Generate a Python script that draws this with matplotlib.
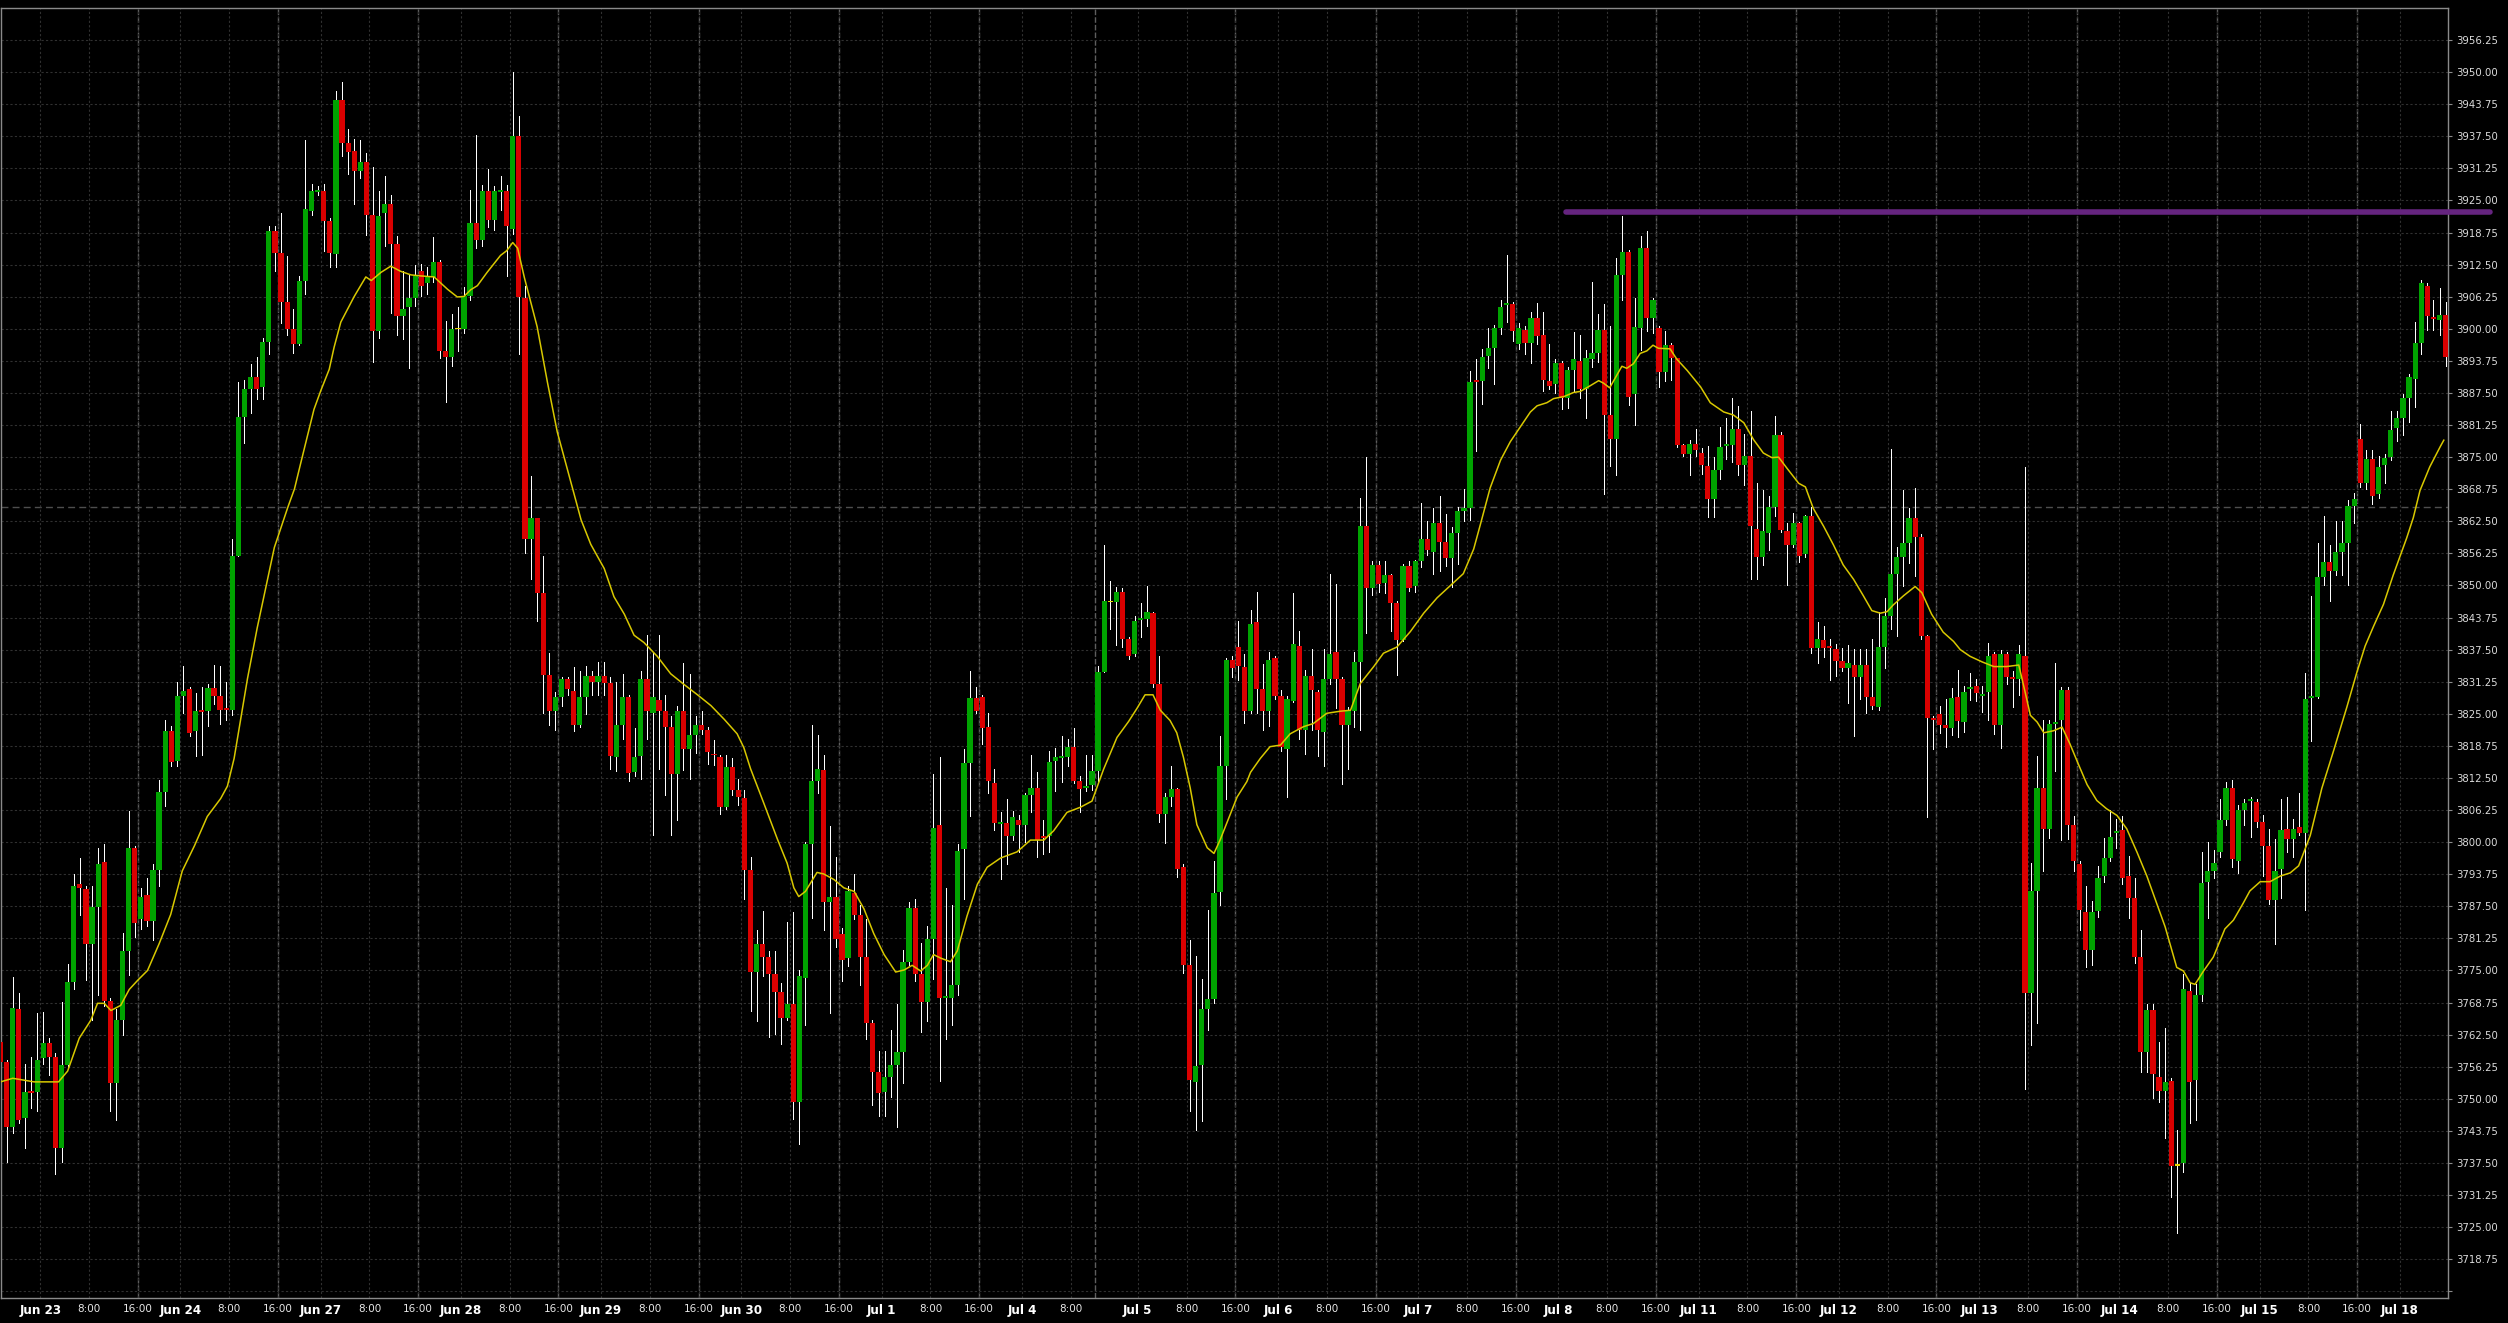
import numpy as np
import pandas as pd
import matplotlib
matplotlib.use('Agg')
import matplotlib.pyplot as plt

# hourly bars, ES futures, Jun 23 - Jul 18
opens = [3761.0, 3757.1, 3744.5, 3767.4, 3746.2, 3751.5, 3751.4, 3757.9, 3760.8, 3758.2,
         3740.5, 3756.5, 3772.7, 3791.8, 3790.8, 3780.2, 3787.3, 3796.1, 3769.1, 3753.0,
         3765.3, 3778.8, 3798.9, 3785.1, 3789.7, 3784.7, 3794.6, 3809.7, 3821.6, 3815.9,
         3828.4, 3829.8, 3821.6, 3825.7, 3825.5, 3830.0, 3828.4, 3826.2, 3825.8, 3855.7,
         3882.9, 3888.2, 3890.7, 3888.6, 3897.4, 3919.0, 3914.8, 3905.2, 3899.9, 3897.1,
         3909.4, 3923.0, 3926.7, 3926.8, 3920.9, 3914.5, 3944.6, 3936.1, 3934.6, 3930.8,
         3932.5, 3922.2, 3899.6, 3922.6, 3924.3, 3916.5, 3902.5, 3904.2, 3905.9, 3911.3,
         3908.9, 3910.1, 3913.0, 3895.7, 3894.5, 3899.9, 3899.9, 3906.3, 3920.6, 3917.2,
         3926.8, 3921.2, 3926.7, 3926.8, 3919.5, 3937.6, 3905.9, 3859.0, 3863.1, 3848.5,
         3832.5, 3825.5, 3828.2, 3831.7, 3829.4, 3822.9, 3828.2, 3832.4, 3831.1, 3832.4,
         3831.0, 3816.6, 3822.9, 3828.2, 3813.6, 3816.8, 3831.8, 3825.2, 3827.7, 3825.5,
         3822.5, 3813.2, 3825.5, 3818.1, 3820.9, 3822.9, 3821.8, 3817.2, 3816.6, 3806.8,
         3814.7, 3810.2, 3808.6, 3794.5, 3774.7, 3780.2, 3777.7, 3774.4, 3770.9, 3765.8,
         3768.5, 3749.4, 3773.6, 3799.6, 3811.9, 3814.0, 3788.4, 3789.4, 3782.2, 3777.4,
         3790.1, 3785.9, 3777.7, 3764.7, 3755.3, 3751.4, 3754.2, 3756.6, 3759.2, 3776.7,
         3787.2, 3774.3, 3768.9, 3781.1, 3803.4, 3769.6, 3769.6, 3772.2, 3798.6, 3815.4,
         3828.0, 3828.2, 3822.5, 3811.5, 3803.5, 3803.7, 3801.1, 3804.4, 3803.4, 3809.2,
         3810.6, 3801.2, 3801.1, 3815.9, 3816.3, 3816.5, 3818.6, 3812.0, 3810.5, 3811.2,
         3813.8, 3833.2, 3846.7, 3846.7, 3848.7, 3839.6, 3836.6, 3843.3, 3843.4, 3844.6,
         3830.9, 3805.4, 3808.8, 3810.3, 3795.1, 3776.0, 3753.3, 3756.5, 3767.4, 3769.4,
         3790.3, 3814.8, 3835.4, 3838.0, 3834.1, 3825.5, 3842.8, 3829.9, 3825.5, 3835.9,
         3828.5, 3818.1, 3827.5, 3838.3, 3821.9, 3832.4, 3829.3, 3821.5, 3831.8, 3837.1,
         3831.8, 3822.9, 3825.5, 3835.0, 3861.6, 3849.6, 3853.9, 3850.5, 3852.1, 3846.6,
         3839.4, 3853.7, 3849.9, 3854.7, 3859.1, 3856.5, 3862.2, 3858.5, 3855.3, 3860.3,
         3864.5, 3865.1, 3889.9, 3889.8, 3894.7, 3896.3, 3900.1, 3904.7, 3904.8, 3897.1,
         3899.7, 3897.2, 3902.1, 3898.7, 3889.9, 3889.2, 3893.4, 3886.5, 3891.9, 3893.8,
         3888.3, 3894.1, 3895.3, 3899.7, 3883.2, 3878.5, 3910.5, 3914.9, 3887.2, 3900.2,
         3915.7, 3902.1, 3900.1, 3891.6, 3896.8, 3894.3, 3877.4, 3875.6, 3877.5, 3875.9,
         3873.3, 3866.8, 3872.5, 3877.2, 3877.3, 3880.5, 3873.5, 3875.3, 3861.0, 3855.6,
         3860.3, 3865.2, 3879.3, 3860.7, 3857.9, 3862.1, 3856.1, 3863.5, 3837.9, 3839.3,
         3838.0, 3837.7, 3835.2, 3833.9, 3834.6, 3832.1, 3834.6, 3828.3, 3826.4, 3838.0,
         3844.0, 3852.3, 3855.6, 3858.3, 3863.2, 3859.4, 3840.2, 3824.0, 3825.0, 3822.8,
         3822.3, 3828.2, 3823.4, 3829.9, 3830.5, 3828.5, 3829.2, 3836.6, 3822.8, 3836.6,
         3832.1, 3831.8, 3836.2, 3770.7, 3790.4, 3810.5, 3802.6, 3823.1, 3823.7, 3829.6,
         3803.3, 3795.8, 3786.4, 3778.9, 3786.5, 3793.4, 3797.0, 3801.8, 3802.3, 3793.4,
         3789.2, 3777.6, 3759.2, 3767.3, 3754.3, 3751.5, 3753.5, 3737.0, 3737.4, 3771.0,
         3753.6, 3770.3, 3792.3, 3794.3, 3798.0, 3804.3, 3810.5, 3796.4, 3806.2, 3808.0,
         3807.9, 3803.9, 3799.3, 3788.8, 3794.7, 3802.6, 3800.6, 3803.0, 3801.7, 3828.1,
         3828.3, 3851.7, 3854.6, 3852.9, 3856.6, 3858.2, 3865.4, 3878.6, 3870.0, 3874.6,
         3867.8, 3873.5, 3875.0, 3880.7, 3882.7, 3886.5, 3890.2, 3897.2, 3908.4, 3902.2,
         3901.8, 3902.7]

highs = [3762.5, 3757.5, 3773.8, 3770.7, 3756.8, 3758.2, 3766.7, 3767.0, 3761.8, 3758.9,
         3768.9, 3776.2, 3793.7, 3796.9, 3791.5, 3791.5, 3798.9, 3799.7, 3769.6, 3767.4,
         3782.3, 3806.0, 3799.3, 3791.1, 3793.0, 3795.8, 3812.1, 3823.7, 3822.7, 3831.2,
         3834.3, 3830.2, 3829.1, 3830.2, 3830.8, 3834.5, 3834.3, 3831.2, 3859.1, 3889.7,
         3890.0, 3893.1, 3894.5, 3898.2, 3920.0, 3920.0, 3922.6, 3914.1, 3903.9, 3910.3,
         3936.8, 3928.2, 3927.8, 3928.2, 3921.5, 3946.4, 3948.1, 3938.9, 3937.0, 3936.8,
         3934.2, 3931.5, 3926.8, 3929.7, 3926.0, 3918.0, 3911.3, 3910.4, 3912.4, 3912.7,
         3912.0, 3917.9, 3913.4, 3901.6, 3902.8, 3904.2, 3908.2, 3927.1, 3937.8, 3928.0,
         3931.1, 3927.8, 3929.8, 3928.0, 3950.0, 3941.4, 3908.3, 3871.4, 3863.2, 3855.7,
         3836.9, 3829.3, 3832.1, 3832.1, 3834.1, 3833.4, 3834.4, 3833.4, 3835.1, 3835.1,
         3832.1, 3831.1, 3832.8, 3828.7, 3822.2, 3833.4, 3840.3, 3836.9, 3840.3, 3828.7,
         3824.6, 3826.6, 3834.8, 3832.8, 3824.6, 3825.5, 3822.5, 3819.8, 3817.0, 3817.0,
         3816.4, 3812.3, 3810.2, 3797.2, 3782.9, 3786.6, 3778.8, 3778.8, 3772.6, 3784.5,
         3786.3, 3775.0, 3800.0, 3822.8, 3820.9, 3817.0, 3803.1, 3797.2, 3783.2, 3791.4,
         3793.8, 3787.7, 3785.0, 3765.4, 3759.4, 3759.4, 3763.5, 3768.5, 3779.0, 3788.4,
         3789.0, 3780.4, 3783.6, 3813.2, 3816.6, 3791.1, 3787.7, 3799.6, 3818.1, 3833.4,
         3830.3, 3828.7, 3825.1, 3814.2, 3805.8, 3808.4, 3806.0, 3805.2, 3809.6, 3816.9,
         3813.6, 3804.4, 3817.7, 3818.3, 3820.7, 3820.1, 3822.3, 3812.9, 3816.9, 3816.9,
         3834.4, 3857.9, 3850.9, 3849.7, 3849.6, 3840.0, 3844.0, 3846.6, 3849.9, 3844.9,
         3836.2, 3809.6, 3814.8, 3810.6, 3795.7, 3781.0, 3777.8, 3773.3, 3786.7, 3796.3,
         3820.7, 3835.9, 3836.2, 3843.0, 3836.6, 3845.2, 3848.7, 3834.7, 3837.1, 3836.2,
         3829.7, 3828.5, 3848.5, 3841.2, 3833.5, 3837.7, 3829.7, 3837.7, 3852.3, 3850.3,
         3832.1, 3826.3, 3837.1, 3867.0, 3875.0, 3854.7, 3854.7, 3854.7, 3852.3, 3847.0,
         3854.1, 3854.7, 3855.0, 3866.0, 3862.5, 3865.1, 3867.5, 3864.0, 3861.3, 3865.2,
         3868.8, 3891.7, 3894.1, 3896.1, 3900.1, 3900.8, 3905.7, 3914.4, 3905.3, 3901.1,
         3900.5, 3903.3, 3905.0, 3903.3, 3897.0, 3894.1, 3893.8, 3892.5, 3899.3, 3898.8,
         3895.9, 3909.1, 3902.9, 3904.8, 3900.5, 3913.8, 3922.0, 3915.4, 3905.9, 3918.0,
         3919.1, 3905.9, 3900.5, 3899.6, 3897.2, 3894.4, 3877.5, 3878.4, 3880.4, 3876.8,
         3877.1, 3875.1, 3880.9, 3882.6, 3886.5, 3884.9, 3879.5, 3884.0, 3870.0, 3868.6,
         3867.5, 3883.1, 3879.8, 3862.1, 3864.1, 3862.3, 3863.7, 3865.3, 3842.8, 3842.2,
         3839.5, 3838.6, 3837.9, 3838.4, 3837.7, 3837.6, 3837.7, 3839.5, 3844.9, 3847.6,
         3876.5, 3857.4, 3868.6, 3865.0, 3868.9, 3860.1, 3840.4, 3824.5, 3826.6, 3827.9,
         3830.1, 3833.5, 3830.5, 3832.9, 3831.8, 3830.5, 3838.8, 3837.1, 3837.5, 3837.1,
         3833.3, 3838.4, 3873.1, 3796.0, 3816.8, 3823.7, 3823.7, 3834.9, 3830.3, 3830.3,
         3805.0, 3796.3, 3791.4, 3788.5, 3795.4, 3800.9, 3806.2, 3804.6, 3805.0, 3797.3,
         3793.0, 3782.9, 3768.4, 3768.4, 3761.1, 3763.7, 3754.1, 3744.0, 3774.3, 3772.6,
         3772.3, 3798.0, 3800.0, 3798.4, 3808.5, 3811.8, 3812.1, 3807.2, 3808.5, 3808.8,
         3808.5, 3805.2, 3802.6, 3800.6, 3808.5, 3808.8, 3804.6, 3809.6, 3832.9, 3848.0,
         3858.2, 3863.6, 3857.9, 3862.5, 3862.5, 3866.7, 3868.1, 3881.4, 3876.4, 3876.4,
         3875.3, 3875.7, 3884.0, 3883.9, 3887.3, 3891.1, 3901.4, 3909.5, 3909.0, 3905.6,
         3908.0, 3905.3]

lows = [3756.1, 3737.7, 3743.3, 3745.2, 3740.5, 3748.3, 3747.6, 3756.8, 3754.7, 3735.3,
        3737.7, 3756.1, 3771.3, 3785.9, 3773.1, 3765.3, 3770.3, 3768.1, 3747.6, 3745.8,
        3762.5, 3774.1, 3781.6, 3783.0, 3783.7, 3780.9, 3791.5, 3807.1, 3814.9, 3814.9,
        3825.1, 3820.6, 3816.7, 3817.0, 3822.7, 3827.0, 3823.1, 3823.7, 3824.8, 3855.7,
        3877.7, 3883.6, 3886.3, 3886.3, 3895.0, 3911.3, 3901.1, 3898.8, 3895.3, 3896.8,
        3906.7, 3922.2, 3926.1, 3915.1, 3912.0, 3912.0, 3933.7, 3930.1, 3924.4, 3929.3,
        3918.3, 3893.5, 3898.2, 3916.2, 3903.0, 3898.8, 3898.1, 3892.4, 3904.5, 3906.3,
        3906.7, 3909.2, 3894.3, 3885.7, 3892.8, 3895.7, 3899.2, 3905.6, 3915.8, 3916.2,
        3919.8, 3919.2, 3923.2, 3910.3, 3918.5, 3895.0, 3856.4, 3851.2, 3843.0, 3825.2,
        3822.9, 3821.8, 3826.6, 3828.7, 3821.6, 3822.5, 3825.0, 3828.7, 3828.7, 3828.7,
        3814.3, 3813.9, 3820.1, 3811.9, 3812.9, 3812.3, 3820.1, 3801.3, 3814.3, 3809.1,
        3801.3, 3804.3, 3814.0, 3812.3, 3817.3, 3821.1, 3815.3, 3815.0, 3805.4, 3806.4,
        3809.1, 3807.2, 3789.0, 3767.2, 3765.1, 3774.0, 3762.0, 3762.7, 3760.7, 3765.4,
        3746.0, 3741.2, 3764.4, 3785.3, 3809.5, 3782.9, 3766.8, 3779.5, 3773.0, 3775.8,
        3785.0, 3772.2, 3761.7, 3748.7, 3746.7, 3746.7, 3750.4, 3744.6, 3753.1, 3776.0,
        3773.0, 3763.1, 3765.1, 3773.3, 3753.5, 3761.7, 3764.4, 3770.2, 3789.0, 3805.1,
        3825.2, 3819.1, 3809.6, 3802.3, 3792.9, 3795.7, 3800.4, 3798.1, 3800.1, 3805.8,
        3797.2, 3797.7, 3798.1, 3810.0, 3811.8, 3814.8, 3811.5, 3805.8, 3810.0, 3810.2,
        3811.8, 3833.2, 3841.6, 3838.4, 3838.0, 3835.6, 3836.2, 3840.0, 3842.2, 3830.3,
        3804.0, 3799.9, 3807.0, 3793.3, 3774.6, 3747.6, 3744.0, 3745.6, 3763.5, 3768.6,
        3787.7, 3808.4, 3832.1, 3831.5, 3823.3, 3825.1, 3825.1, 3821.9, 3822.7, 3827.9,
        3817.7, 3808.8, 3827.3, 3820.1, 3817.1, 3821.9, 3816.8, 3814.8, 3830.9, 3826.1,
        3811.4, 3814.2, 3822.5, 3821.9, 3840.8, 3848.2, 3848.7, 3848.5, 3841.2, 3832.6,
        3839.2, 3849.0, 3848.7, 3853.5, 3855.9, 3852.3, 3852.9, 3853.8, 3849.7, 3854.1,
        3862.5, 3862.8, 3876.2, 3885.4, 3892.3, 3889.2, 3898.9, 3901.3, 3897.7, 3896.1,
        3895.0, 3893.4, 3897.1, 3887.8, 3888.3, 3887.4, 3884.3, 3884.5, 3887.7, 3886.5,
        3882.7, 3892.5, 3893.6, 3867.9, 3873.3, 3871.5, 3905.6, 3885.2, 3881.3, 3895.9,
        3899.5, 3899.2, 3888.7, 3889.9, 3890.1, 3876.9, 3875.3, 3871.5, 3875.3, 3871.7,
        3863.4, 3863.4, 3870.7, 3874.7, 3874.0, 3871.5, 3869.5, 3851.3, 3851.2, 3853.9,
        3857.0, 3863.5, 3860.4, 3850.0, 3857.4, 3854.5, 3855.6, 3836.9, 3834.9, 3836.0,
        3831.5, 3832.4, 3833.3, 3827.2, 3820.7, 3827.9, 3825.2, 3825.9, 3825.7, 3834.0,
        3841.6, 3840.2, 3849.8, 3854.3, 3851.8, 3839.5, 3804.8, 3818.2, 3821.2, 3818.5,
        3820.9, 3820.5, 3821.5, 3827.6, 3827.4, 3825.4, 3823.7, 3821.1, 3818.4, 3830.9,
        3826.3, 3828.7, 3751.9, 3760.5, 3764.7, 3794.4, 3800.9, 3813.8, 3800.4, 3800.6,
        3794.4, 3782.9, 3775.6, 3776.0, 3785.5, 3792.3, 3796.3, 3798.9, 3791.8, 3785.2,
        3776.5, 3755.2, 3755.2, 3750.2, 3749.3, 3742.3, 3730.8, 3723.9, 3735.7, 3745.3,
        3745.9, 3769.0, 3785.2, 3793.1, 3797.1, 3803.3, 3795.1, 3794.0, 3803.3, 3801.0,
        3803.0, 3793.4, 3787.9, 3780.2, 3789.2, 3798.0, 3797.1, 3801.3, 3786.8, 3819.7,
        3828.0, 3850.0, 3847.0, 3852.0, 3852.0, 3850.0, 3862.1, 3869.1, 3868.7, 3865.8,
        3867.1, 3870.0, 3874.4, 3878.1, 3879.3, 3881.9, 3884.7, 3895.1, 3899.8, 3899.8,
        3898.7, 3892.8]

closes = [3757.1, 3744.5, 3767.7, 3745.9, 3751.4, 3751.1, 3757.5, 3760.8, 3758.2, 3740.5,
          3756.5, 3772.7, 3791.5, 3791.1, 3780.2, 3787.3, 3795.8, 3769.1, 3753.0, 3765.3,
          3778.8, 3798.9, 3784.2, 3789.4, 3784.7, 3794.6, 3809.7, 3821.7, 3815.6, 3828.4,
          3829.5, 3821.3, 3825.5, 3825.3, 3830.0, 3828.4, 3825.8, 3825.8, 3855.7, 3882.9,
          3888.2, 3890.7, 3888.2, 3897.4, 3919.0, 3914.8, 3905.2, 3899.9, 3897.1, 3909.4,
          3923.3, 3926.8, 3927.0, 3920.9, 3914.8, 3944.6, 3936.1, 3934.4, 3930.8, 3932.5,
          3922.2, 3899.6, 3921.9, 3924.3, 3916.5, 3902.5, 3903.9, 3905.9, 3910.3, 3908.4,
          3910.0, 3913.0, 3895.7, 3894.5, 3899.9, 3899.9, 3906.3, 3920.6, 3917.2, 3926.8,
          3921.2, 3926.8, 3926.9, 3920.0, 3937.6, 3906.2, 3859.0, 3863.2, 3848.5, 3832.5,
          3825.5, 3828.2, 3831.8, 3829.8, 3822.9, 3828.2, 3832.4, 3831.1, 3832.4, 3831.0,
          3816.8, 3822.9, 3828.2, 3813.4, 3816.6, 3831.8, 3825.5, 3828.2, 3825.5, 3822.5,
          3813.2, 3825.5, 3818.1, 3820.9, 3822.9, 3821.8, 3817.5, 3816.9, 3806.8, 3814.7,
          3810.2, 3808.8, 3794.5, 3774.7, 3780.2, 3777.7, 3774.4, 3770.9, 3765.8, 3768.5,
          3749.4, 3774.0, 3799.6, 3811.9, 3814.3, 3788.4, 3789.4, 3781.1, 3777.1, 3790.4,
          3785.9, 3777.7, 3764.7, 3755.3, 3751.2, 3754.2, 3756.6, 3759.2, 3776.7, 3787.2,
          3774.3, 3768.9, 3781.2, 3802.7, 3769.6, 3769.8, 3772.2, 3798.2, 3815.4, 3828.0,
          3825.5, 3822.2, 3812.0, 3803.7, 3803.8, 3801.1, 3804.9, 3803.4, 3809.2, 3810.6,
          3800.4, 3800.9, 3815.6, 3816.5, 3816.8, 3818.6, 3812.0, 3810.3, 3810.7, 3813.8,
          3833.2, 3847.0, 3846.7, 3848.7, 3839.6, 3836.2, 3843.0, 3843.5, 3844.8, 3830.9,
          3805.4, 3808.8, 3810.3, 3794.7, 3776.0, 3753.7, 3756.3, 3767.4, 3769.4, 3790.1,
          3814.8, 3835.4, 3833.9, 3834.4, 3825.5, 3842.4, 3829.9, 3825.5, 3835.4, 3828.5,
          3818.6, 3827.9, 3838.6, 3821.9, 3832.4, 3829.7, 3821.9, 3831.8, 3836.6, 3831.8,
          3822.9, 3825.5, 3835.0, 3861.6, 3849.6, 3853.9, 3850.3, 3852.1, 3846.6, 3839.4,
          3853.7, 3849.6, 3854.7, 3859.1, 3856.9, 3862.2, 3858.5, 3855.3, 3860.3, 3864.5,
          3865.1, 3889.7, 3889.7, 3894.6, 3896.2, 3900.1, 3904.2, 3904.9, 3899.5, 3900.1,
          3897.2, 3902.1, 3898.6, 3890.1, 3888.9, 3893.4, 3886.5, 3891.9, 3894.1, 3888.3,
          3894.3, 3895.2, 3899.7, 3883.2, 3878.5, 3910.5, 3914.9, 3886.8, 3900.3, 3915.7,
          3902.1, 3905.6, 3891.6, 3896.8, 3894.3, 3877.4, 3875.6, 3877.5, 3876.4, 3873.5,
          3866.8, 3872.5, 3876.9, 3877.4, 3880.5, 3873.5, 3875.3, 3861.5, 3855.6, 3860.7,
          3865.2, 3879.3, 3860.8, 3857.9, 3862.1, 3855.8, 3863.5, 3837.9, 3839.5, 3837.9,
          3837.8, 3835.2, 3833.9, 3834.9, 3832.1, 3834.6, 3828.3, 3826.5, 3838.0, 3844.0,
          3852.3, 3855.6, 3858.3, 3863.2, 3859.4, 3840.2, 3824.2, 3823.8, 3822.8, 3822.3,
          3828.1, 3823.6, 3829.2, 3830.1, 3829.0, 3828.8, 3836.2, 3822.8, 3836.6, 3832.2,
          3831.8, 3836.6, 3770.7, 3790.4, 3810.5, 3802.6, 3823.0, 3823.4, 3829.6, 3803.3,
          3796.3, 3786.8, 3778.9, 3786.4, 3793.0, 3796.9, 3801.0, 3802.1, 3793.0, 3789.2,
          3777.6, 3759.2, 3767.3, 3754.8, 3751.5, 3753.2, 3737.0, 3737.0, 3771.4, 3753.2,
          3770.3, 3792.1, 3794.3, 3796.0, 3804.3, 3810.5, 3796.7, 3806.2, 3807.6, 3808.3,
          3803.9, 3799.3, 3788.8, 3794.4, 3802.3, 3800.6, 3802.6, 3801.7, 3827.9, 3828.4,
          3851.7, 3854.6, 3852.9, 3856.6, 3858.2, 3865.4, 3866.9, 3870.0, 3874.6, 3867.4,
          3873.1, 3874.8, 3880.3, 3882.7, 3886.5, 3890.6, 3897.2, 3908.9, 3902.4, 3901.9,
          3902.7, 3894.5]

# yellow moving average at these bar positions
ma_x = [0, 2.0, 5.5, 9.5, 11.0, 12.9, 14.8, 15.9, 17.0, 18.1, 19.7, 21.1, 22.5, 24.1, 26.0,
        27.9, 29.8, 31.8, 33.9, 36.1, 37.2, 38.3, 40.5, 42.1, 44.9, 47.1, 48.2, 49.2, 51.4,
        52.5, 53.9, 54.7, 55.8, 58.0, 59.9, 60.8, 62.4, 64.0, 65.6, 67.3, 68.9, 71.1, 73.3,
        74.9, 76.0, 77.1, 78.2, 79.8, 82.0, 83.0, 84.0, 84.8, 85.9, 88.0, 89.7, 91.3, 93.5,
        95.2, 96.8, 99.0, 100.6, 102.3, 103.9, 105.5, 107.7, 109.9, 112.1, 114.3, 116.5,
        118.7, 120.8, 121.9, 123.0, 125.2, 127.4, 129.0, 130.1, 130.9, 132.0, 133.9, 135.0,
        136.7, 138.3, 140.0, 141.6, 143.2, 144.9, 146.8, 148.2, 149.5, 150.9, 152.0, 153.0,
        154.2, 155.8, 156.9, 158.5, 160.2, 161.8, 164.0, 166.7, 168.9, 171.1, 172.7, 174.9,
        177.1, 179.0, 180.9, 183.1, 185.0, 186.4, 187.7, 189.0, 190.2, 191.8, 192.9, 194.0,
        195.1, 196.2, 197.9, 199.0, 200.0, 201.4, 202.8, 204.4, 205.0, 206.6, 208.2, 209.9,
        211.5, 213.7, 215.3, 217.5, 219.7, 221.4, 223.0, 225.2, 226.8, 229.0, 231.2, 233.4,
        235.6, 237.7, 239.9, 241.6, 242.7, 244.3, 246.0, 247.6, 249.2, 250.9, 252.0, 253.6,
        254.7, 256.4, 258.0, 259.1, 260.7, 262.1, 262.9, 263.9, 265.1, 265.9, 266.7, 267.8,
        268.9, 270.0, 271.0, 271.9, 273.8, 274.9, 276.6, 278.8, 280.4, 282.6, 284.2, 285.9,
        287.5, 289.1, 290.5, 291.6, 293.0, 294.9, 296.0, 297.3, 299.0, 300.6, 302.2, 303.9,
        305.5, 306.9, 308.3, 309.4, 310.4, 312.1, 314.0, 315.1, 316.7, 318.6, 320.3, 321.4,
        323.0, 325.0, 326.9, 329.0, 331.0, 332.1, 332.9, 334.0, 335.1, 336.7, 338.1, 339.4,
        340.8, 342.2, 343.8, 345.4, 347.1, 348.7, 350.4, 352.0, 353.6, 355.0, 356.9, 358.0,
        359.1, 359.9, 361.3, 362.9, 364.8, 366.2, 367.8, 368.9, 370.6, 372.2, 373.9, 375.5,
        376.9, 378.8, 380.7, 382.6, 384.8, 386.4, 387.8, 389.2, 390.8, 392.4, 394.6, 395.7,
        396.8, 398.4, 400.1, 400.7]
ma_y = [3753.3, 3754.0, 3753.3, 3753.3, 3755.4, 3761.8, 3765.3, 3768.6, 3768.6, 3767.2,
        3768.2, 3771.3, 3773.1, 3775.0, 3780.2, 3785.9, 3794.4, 3799.3, 3805.0, 3808.5,
        3810.9, 3816.3, 3831.9, 3841.8, 3857.4, 3865.2, 3868.8, 3873.7, 3884.3, 3887.9,
        3892.1, 3896.4, 3901.3, 3906.3, 3910.1, 3909.4, 3911.0, 3912.2, 3911.2, 3910.5,
        3910.3, 3910.1, 3907.7, 3906.2, 3906.3, 3907.6, 3908.4, 3911.0, 3914.3, 3915.2,
        3916.8, 3915.7, 3910.0, 3900.4, 3889.5, 3879.9, 3870.3, 3862.8, 3858.0, 3853.3,
        3847.8, 3844.4, 3840.3, 3838.9, 3836.2, 3832.8, 3830.7, 3828.7, 3826.6, 3823.9,
        3821.1, 3818.4, 3814.3, 3807.5, 3800.6, 3795.9, 3791.1, 3789.4, 3790.4, 3794.1,
        3793.8, 3792.7, 3791.1, 3790.4, 3787.0, 3782.2, 3778.1, 3774.7, 3775.1, 3776.0,
        3774.9, 3776.0, 3778.1, 3777.4, 3776.7, 3778.8, 3785.6, 3791.8, 3795.1, 3796.9,
        3798.1, 3800.4, 3800.4, 3802.2, 3805.8, 3806.8, 3808.0, 3814.2, 3820.4, 3823.5,
        3826.1, 3828.7, 3828.7, 3825.7, 3823.7, 3821.3, 3816.5, 3810.6, 3803.4, 3798.9,
        3797.8, 3800.4, 3804.6, 3808.8, 3811.8, 3813.6, 3816.3, 3818.6, 3818.9, 3821.1,
        3822.5, 3823.1, 3825.1, 3825.5, 3825.7, 3830.9, 3834.2, 3836.8, 3838.0, 3841.0,
        3844.6, 3847.6, 3849.9, 3852.3, 3857.1, 3861.9, 3869.0, 3874.4, 3878.0, 3880.8,
        3883.8, 3885.0, 3885.6, 3886.4, 3886.8, 3887.6, 3887.8, 3888.9, 3889.9, 3889.4,
        3888.5, 3891.0, 3892.7, 3892.3, 3893.2, 3895.2, 3895.7, 3896.8, 3896.2, 3896.1,
        3894.1, 3891.9, 3888.7, 3885.6, 3883.8, 3883.2, 3881.7, 3878.4, 3875.8, 3874.9,
        3875.0, 3872.8, 3869.9, 3869.2, 3865.0, 3861.5, 3857.9, 3854.0, 3851.2, 3848.0,
        3845.1, 3844.6, 3844.9, 3846.2, 3848.0, 3849.8, 3848.6, 3844.4, 3840.9, 3839.1,
        3837.5, 3836.2, 3835.1, 3834.2, 3834.2, 3834.5, 3828.9, 3824.7, 3823.4, 3821.3,
        3821.7, 3822.4, 3819.1, 3815.1, 3811.2, 3808.1, 3806.5, 3805.2, 3802.6, 3798.0,
        3793.4, 3788.1, 3783.5, 3775.6, 3774.9, 3772.6, 3772.3, 3774.9, 3777.6, 3783.1,
        3784.8, 3788.1, 3790.5, 3792.3, 3792.3, 3793.4, 3794.0, 3795.4, 3801.3, 3810.5,
        3817.7, 3826.3, 3832.9, 3838.2, 3842.1, 3846.3, 3852.0, 3859.2, 3863.2, 3868.5,
        3873.1, 3877.0, 3878.3]

# x-axis labels (bar index of each session day start)
day_names = ['Jun 23', 'Jun 24', 'Jun 27', 'Jun 28', 'Jun 29', 'Jun 30', 'Jul 1', 'Jul 4', 'Jul 5',
             'Jul 6', 'Jul 7', 'Jul 8', 'Jul 11', 'Jul 12', 'Jul 13', 'Jul 14', 'Jul 15', 'Jul 18']
day_pos = [6.5, 29.5, 52.5, 75.5, 98.5, 121.5, 144.5, 167.5, 186.5,
           209.5, 232.5, 255.5, 278.5, 301.5, 324.5, 347.5, 370.5, 393.5]
# session breaks (daily halt)
breaks = [22.5, 45.5, 68.5, 91.5, 114.5, 137.5, 160.5, 179.5, 202.5,
          225.5, 248.5, 271.5, 294.5, 317.5, 340.5, 363.5, 386.5]

level_price = 3922.75      # purple horizontal line
level_start = 256.8
cross_price = 3865.25      # dashed crosshair line

df = pd.DataFrame({'open': opens, 'high': highs, 'low': lows, 'close': closes})
x = np.arange(len(df))

fig = plt.figure(figsize=(25.08, 13.23), dpi=100, facecolor='black')
ax = fig.add_axes([0.0004, 0.0189, 0.9757, 0.9751])
ax.set_facecolor('black')

# grid
hour8 = [d + 8 for d in day_pos[:-1]]
hour16 = [d + 16 for d in day_pos[:-1] if d != 167.5]
hour_pos = sorted(hour8 + hour16)
hour_names = ['8:00' if p in hour8 else '16:00' for p in hour_pos]

ax.set_xticks(day_pos)
ax.set_xticklabels(day_names, fontsize=9.5, fontweight='bold', fontstretch='condensed', color='white')
ax.set_xticks(hour_pos, minor=True)
ax.set_xticklabels(hour_names, minor=True, fontsize=7.5, color='#e8e8e8')
ax.tick_params(axis='x', which='both', length=0, pad=4)

ax.grid(True, which='both', axis='x', color='#303030', lw=0.8, linestyle=(0, (2, 2)), zorder=0)
ax.grid(True, which='major', axis='y', color='#303030', lw=0.8, linestyle=(0, (2, 2)), zorder=0)
for b in breaks:
    ax.axvline(b, color='#5e5e5e', lw=1.0, linestyle=(0, (4, 1.5)), zorder=0.5)
ax.axhline(cross_price, color='#4e4e4e', lw=1.0, linestyle=(0, (5, 3)), zorder=0.6)

# candles
colors = np.where(df['close'] > df['open'], '#00a300',
                  np.where(df['close'] < df['open'], '#da0000', '#e8d800'))
ax.vlines(x, df['low'], df['high'], color='white', lw=0.72, antialiased=False, zorder=2)
body_lo = np.minimum(df['open'], df['close'])
body_h = np.maximum((df['close'] - df['open']).abs(), 0.35)
ax.bar(x, body_h, bottom=body_lo, width=0.86, color=colors, linewidth=0,
       antialiased=False, zorder=3)

# moving average
ax.plot(ma_x, ma_y, color='#d8c800', lw=1.1, zorder=4)

# level line
ax.plot([level_start, 408.3], [level_price, level_price], color='#65247f', lw=4,
        solid_capstyle='round', clip_on=False, zorder=6)

# y axis on the right
ax.yaxis.tick_right()
yt = np.arange(3712.5, 3956.3, 6.25)
ax.set_yticks(yt)
ax.set_yticklabels([''] + ['%.2f' % v for v in yt[1:]], fontsize=7.3, color='#dcdcdc')
ax.tick_params(axis='y', length=3, color='#8a8a8a', pad=3)

ax.set_xlim(0.07, 401.4)
ax.set_ylim(3711.2, 3962.5)

for s in ax.spines.values():
    s.set_color('#8a8a8a')
    s.set_linewidth(1.0)

fig.savefig('out.png', dpi=100, facecolor='black')
